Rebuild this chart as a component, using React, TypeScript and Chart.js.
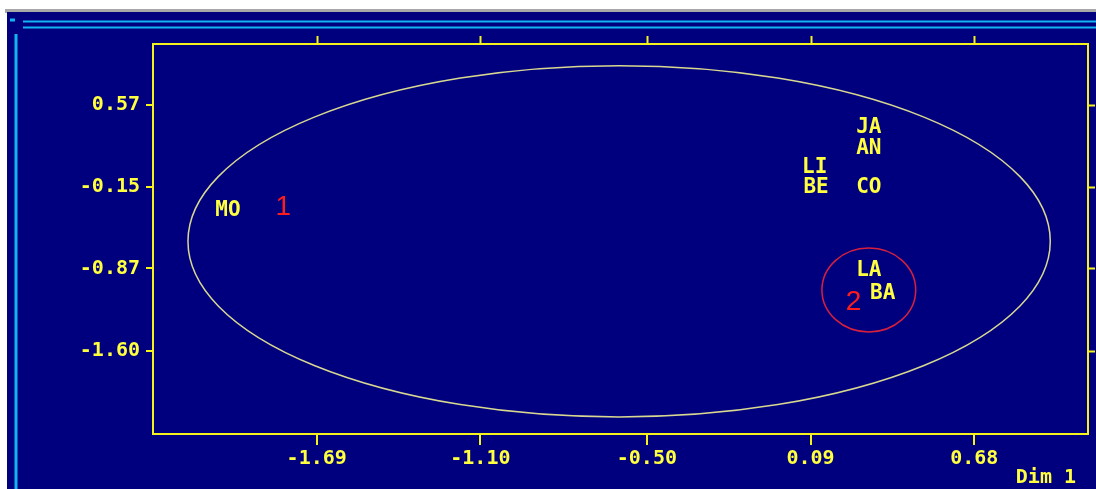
import React, { useEffect, useRef } from "react";
import { Chart, registerables } from "chart.js";

Chart.register(...registerables);

// ---- data ----
const pointLabels = ["MO", "JA", "AN", "LI", "BE", "CO", "LA", "BA"];
const dim1Values = [-2.01, 0.3, 0.3, 0.105, 0.11, 0.3, 0.3, 0.35];
const dim2Values = [-0.36, 0.37, 0.19, 0.02, -0.16, -0.16, -0.89, -1.09];

const xTickValues = [-1.69, -1.1, -0.5, 0.09, 0.68];
const yTickValues = [0.57, -0.15, -0.87, -1.6];
const xRange = [-2.28, 1.09];
const yRange = [-2.33, 1.11];

const groupNames = ["1", "2"];
const groupX = [-1.81, 0.245];
const groupY = [-0.32, -1.16];

const ellipseCx = [-0.6, 0.3];
const ellipseCy = [-0.63, -1.06];
const ellipseRx = [1.554, 0.169];
const ellipseRy = [1.549, 0.37];
const ellipseColors = ["#d8d890", "#d8203c"];

const axisTitle = "Dim 1";

// ---- styles ----
const NAVY = "#00007f";
const YELLOW = "#f4f41c";
const TEXT_YELLOW = "#ffff40";
const CYAN = "#14b4f0";
const MONO = '"DejaVu Sans Mono", monospace';

const framePlugin = {
  id: "frame",
  beforeDraw(chart: any) {
    const { ctx, width, height, chartArea } = chart;
    ctx.save();
    ctx.fillStyle = "#ffffff";
    ctx.fillRect(0, 0, width, height);
    ctx.fillStyle = "#a8a8a8";
    ctx.fillRect(5, 9, width - 5, 4);
    ctx.fillStyle = NAVY;
    ctx.fillRect(7, 12, width - 7, height - 12);
    // window decorations
    ctx.strokeStyle = CYAN;
    ctx.lineWidth = 2;
    ctx.beginPath();
    ctx.moveTo(23, 21.5);
    ctx.lineTo(width, 21.5);
    ctx.moveTo(23, 27.5);
    ctx.lineTo(width, 27.5);
    ctx.stroke();
    ctx.lineWidth = 3;
    ctx.beginPath();
    ctx.moveTo(16, 34);
    ctx.lineTo(16, height);
    ctx.moveTo(10, 20);
    ctx.lineTo(15, 20);
    ctx.stroke();
    // top/right box sides
    ctx.strokeStyle = YELLOW;
    ctx.lineWidth = 2;
    ctx.beginPath();
    ctx.moveTo(chartArea.left, chartArea.top);
    ctx.lineTo(chartArea.right, chartArea.top);
    ctx.lineTo(chartArea.right, chartArea.bottom);
    ctx.stroke();
    // mirror ticks
    const xs = chart.scales.x;
    const ys = chart.scales.y;
    ctx.beginPath();
    xTickValues.forEach((v) => {
      const px = Math.round(xs.getPixelForValue(v)) + 0.5;
      ctx.moveTo(px, chartArea.top);
      ctx.lineTo(px, chartArea.top - 8);
    });
    yTickValues.forEach((v) => {
      const py = Math.round(ys.getPixelForValue(v)) + 0.5;
      ctx.moveTo(chartArea.right, py);
      ctx.lineTo(chartArea.right + 7, py);
    });
    ctx.stroke();
    ctx.restore();
  },
  afterDatasetsDraw(chart: any) {
    const { ctx, chartArea } = chart;
    const xs = chart.scales.x;
    const ys = chart.scales.y;
    ctx.save();
    // ellipses
    ellipseCx.forEach((cx, i) => {
      const px = xs.getPixelForValue(cx);
      const py = ys.getPixelForValue(ellipseCy[i]);
      const rx = Math.abs(xs.getPixelForValue(cx + ellipseRx[i]) - px);
      const ry = Math.abs(ys.getPixelForValue(ellipseCy[i] + ellipseRy[i]) - py);
      ctx.strokeStyle = ellipseColors[i];
      ctx.lineWidth = 1.5;
      ctx.beginPath();
      ctx.ellipse(px, py, rx, ry, 0, 0, Math.PI * 2);
      ctx.stroke();
    });
    // point labels
    const meta = chart.getDatasetMeta(0);
    ctx.fillStyle = TEXT_YELLOW;
    ctx.font = `bold 21px ${MONO}`;
    ctx.textAlign = "center";
    ctx.textBaseline = "middle";
    meta.data.forEach((el: any, i: number) => {
      ctx.fillText(pointLabels[i], el.x, el.y);
    });
    // group numbers
    ctx.fillStyle = "#ff1c1c";
    ctx.font = '28px "Liberation Sans", Arial, sans-serif';
    groupNames.forEach((g, i) => {
      ctx.fillText(g, xs.getPixelForValue(groupX[i]), ys.getPixelForValue(groupY[i]) + 1);
    });
    // axis title
    ctx.fillStyle = TEXT_YELLOW;
    ctx.font = `bold 20px ${MONO}`;
    ctx.textAlign = "right";
    ctx.fillText(axisTitle, chartArea.right - 12, 478);
    ctx.restore();
  },
};

export default function App() {
  const ref = useRef<HTMLCanvasElement | null>(null);
  useEffect(() => {
    if (!ref.current) return;
    const chart = new Chart(ref.current, {
      type: "scatter",
      data: {
        datasets: [
          {
            data: dim1Values.map((x, i) => ({ x, y: dim2Values[i] })),
            pointRadius: 0,
            pointHoverRadius: 0,
            backgroundColor: "transparent",
          },
        ],
      },
      options: {
        animation: false,
        responsive: false,
        events: [],
        layout: { padding: { top: 44, right: 8, left: 0, bottom: 0 } },
        plugins: { legend: { display: false }, tooltip: { enabled: false } },
        scales: {
          x: {
            type: "linear",
            min: xRange[0],
            max: xRange[1],
            afterBuildTicks: (s: any) => {
              s.ticks = xTickValues.map((v) => ({ value: v }));
            },
            afterFit: (s: any) => {
              s.height = 55;
            },
            ticks: {
              color: TEXT_YELLOW,
              font: { family: MONO, size: 20, weight: "bold" },
              padding: 2,
              maxRotation: 0,
              autoSkip: false,
              callback: (v: any) => Number(v).toFixed(2),
            },
            grid: {
              drawOnChartArea: false,
              drawTicks: true,
              tickLength: 11,
              color: YELLOW,
              lineWidth: 2,
            },
            border: { display: true, color: YELLOW, width: 2 },
          },
          y: {
            type: "linear",
            min: yRange[0],
            max: yRange[1],
            afterBuildTicks: (s: any) => {
              s.ticks = yTickValues.map((v) => ({ value: v }));
            },
            afterFit: (s: any) => {
              s.width = 153;
            },
            ticks: {
              color: TEXT_YELLOW,
              font: { family: MONO, size: 20, weight: "bold" },
              padding: 6,
              autoSkip: false,
              callback: (v: any) => Number(v).toFixed(2),
            },
            grid: {
              drawOnChartArea: false,
              drawTicks: true,
              tickLength: 7,
              color: YELLOW,
              lineWidth: 2,
            },
            border: { display: true, color: YELLOW, width: 2 },
          },
        },
      },
      plugins: [framePlugin],
    } as any);
    return () => chart.destroy();
  }, []);
  return (
    <div style={{ position: "fixed", left: 0, top: 0, width: 1096, height: 489 }}>
      <canvas ref={ref} width={1096} height={489} style={{ display: "block" }} />
    </div>
  );
}
